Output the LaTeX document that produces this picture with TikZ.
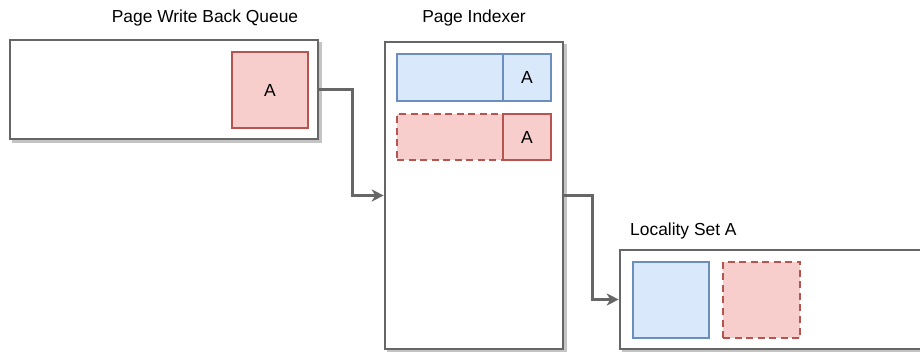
\documentclass[tikz,border=0pt]{standalone}
\usepackage{fontspec}
\setmainfont{Liberation Sans}
\usetikzlibrary{arrows.meta,shadows}
\definecolor{edgec}{HTML}{666666}
\definecolor{bluef}{HTML}{DAE8FC}
\definecolor{blues}{HTML}{6C8EBF}
\definecolor{redf}{HTML}{F8CECC}
\definecolor{reds}{HTML}{B85450}
\definecolor{shadc}{HTML}{C4C4C4}
\tikzset{
  outerbox/.style={rectangle, draw=edgec, line width=2.6pt, fill=white, inner sep=0pt,
    drop shadow={shadow xshift=3pt, shadow yshift=-3pt, fill=shadc, draw=shadc, line width=2.6pt, opacity=1}},
  bluebox/.style={rectangle, draw=blues, line width=2.2pt, fill=bluef, inner sep=0pt, font=\fontsize{17.5}{20}\selectfont},
  redbox/.style={rectangle, draw=reds, line width=2.2pt, fill=redf, inner sep=0pt, font=\fontsize{17.5}{20}\selectfont},
  reddash/.style={redbox, dash pattern=on 7pt off 4.5pt},
  title/.style={anchor=base, inner sep=0pt, font=\fontsize{17.4}{20}\selectfont},
  conn/.style={draw=edgec, line width=2.4pt, -{Stealth[length=12pt,width=12pt,inset=3.5pt]}}
}
\begin{document}
\begin{tikzpicture}[x=1pt,y=-1pt]
\clip (0,0) rectangle (920,352);
\fill[white] (0,0) rectangle (920,352);

% Page Write Back Queue
\node[outerbox, minimum width=308pt, minimum height=99pt] (queue) at (164,89.5) {};
\node[redbox, minimum width=76pt, minimum height=76pt] (qa) at (270,90) {A};
\node[title] (qlabel) at (205,23) {Page Write Back Queue};

% Page Indexer
\node[outerbox, minimum width=178pt, minimum height=307pt] (idx) at (474,195.5) {};
\node[bluebox, minimum width=154pt, minimum height=47pt] (row1) at (474,77.5) {};
\node[bluebox, minimum width=48pt, minimum height=47pt] (row1a) at (527,77.5) {A};
\node[reddash, minimum width=154pt, minimum height=46pt] (row2) at (474,137) {};
\node[redbox, minimum width=48pt, minimum height=46pt] (row2a) at (527,137) {A};
\node[title] (ilabel) at (474,23) {Page Indexer};

% Locality Set A
\node[outerbox, minimum width=320pt, minimum height=99pt] (loc) at (780,299.5) {};
\node[bluebox, minimum width=76pt, minimum height=76pt] (lb) at (671,300) {};
\node[reddash, minimum width=77pt, minimum height=76pt] (lr) at (761.5,300) {};
\node[title, anchor=base west] (llabel) at (630,236) {Locality Set A};

% connectors
\draw[conn] (queue.east) -- ++(33,0) |- (idx.west);
\draw[conn] (idx.east) -- ++(28,0) |- (loc.west);
\end{tikzpicture}
\end{document}
